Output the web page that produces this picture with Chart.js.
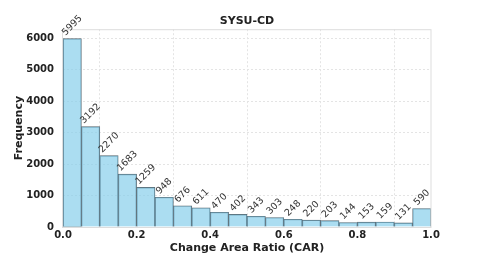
<!DOCTYPE html>
<html>
<head>
<meta charset="utf-8">
<script src="https://cdn.jsdelivr.net/npm/chart.js@4"></script>
<style>
  html, body { margin: 0; padding: 0; background: #fff; }
  #wrap { width: 478px; height: 255px; }
</style>
</head>
<body>
<div id="wrap"><canvas id="myChart" width="478" height="255"></canvas></div>
<script>
const binCenters = [0.025, 0.075, 0.125, 0.175, 0.225, 0.275, 0.325, 0.375, 0.425, 0.475,
                    0.525, 0.575, 0.625, 0.675, 0.725, 0.775, 0.825, 0.875, 0.925, 0.975];
const counts = [5995, 3192, 2270, 1683, 1259, 948, 676, 611, 470, 402,
                343, 303, 248, 220, 203, 144, 153, 159, 131, 590];
const xTicks = [0, 0.2, 0.4, 0.6, 0.8, 1.0];
const yTicks = [0, 1000, 2000, 3000, 4000, 5000, 6000];

const FONT = "'DejaVu Sans', sans-serif";

// frame around plot + count labels on bars
const extras = {
    id: "extras",
    afterDatasetsDraw(chart) {
        const ctx = chart.ctx;
        const a = chart.chartArea;
        ctx.save();
        ctx.strokeStyle = "#dddddd";
        ctx.lineWidth = 1;
        ctx.strokeRect(a.left - 0.5, a.top + 0.5, a.right - a.left + 0.5, a.bottom - a.top);

        const meta = chart.getDatasetMeta(0);
        ctx.font = "9.5px " + FONT;
        ctx.fillStyle = "#333333";
        ctx.textAlign = "center";
        ctx.textBaseline = "middle";
        meta.data.forEach((bar, i) => {
            const txt = String(counts[i]);
            const w = ctx.measureText(txt).width;
            const h = 7;
            const box = (w + h) / Math.SQRT2;
            ctx.save();
            ctx.translate(bar.x, bar.y - 2 - box / 2);
            ctx.rotate(-Math.PI / 4);
            ctx.fillText(txt, 0, 0);
            ctx.restore();
        });
        ctx.restore();
    }
};

const data = {
    datasets: [{
        label: "SYSU-CD",
        data: binCenters.map((c, i) => ({ x: c, y: counts[i] })),
        backgroundColor: "rgba(135, 206, 235, 0.7)",
        borderColor: "#56656e",
        borderWidth: 0.7,
        barPercentage: 1,
        categoryPercentage: 1,
    }]
};

const config = {
    type: "bar",
    data,
    options: {
        responsive: false,
        animation: false,
        layout: { padding: { left: 13, right: 47, top: 0, bottom: 0 } },
        plugins: {
            legend: { display: false },
            tooltip: { enabled: false },
            title: {
                display: true,
                fullSize: false,
                text: "SYSU-CD",
                color: "#222",
                font: { family: FONT, size: 11, weight: "bold" },
                padding: { top: 15, bottom: 1 },
            },
        },
        scales: {
            x: {
                type: "linear",
                offset: false,
                min: 0,
                max: 1,
                afterBuildTicks: (s) => { s.ticks = xTicks.map((v) => ({ value: v })); },
                afterFit: (s) => { s.height = 28; },
                ticks: {
                    color: "#222",
                    font: { family: FONT, size: 10, weight: "bold" },
                    padding: 2,
                    maxRotation: 0,
                    callback: (v) => v.toFixed(1),
                },
                grid: { color: "#e4e4e4", drawTicks: false },
                border: { display: false, dash: [2, 2] },
                title: {
                    display: true,
                    text: "Change Area Ratio (CAR)",
                    color: "#222",
                    font: { family: FONT, size: 11, weight: "bold" },
                    padding: { top: 0, bottom: 0 },
                },
            },
            y: {
                min: 0,
                max: 6295,
                afterBuildTicks: (s) => { s.ticks = yTicks.map((v) => ({ value: v })); },
                afterFit: (s) => { s.width = 50; },
                ticks: {
                    color: "#222",
                    font: { family: FONT, size: 10, weight: "bold" },
                    padding: 9,
                    callback: (v) => String(v),
                },
                grid: { color: "#e4e4e4", drawTicks: false },
                border: { display: false, dash: [2, 2] },
                title: {
                    display: true,
                    text: "Frequency",
                    color: "#222",
                    font: { family: FONT, size: 11, weight: "bold" },
                    padding: { top: 0, bottom: 0 },
                },
            },
        },
    },
    plugins: [extras],
};

let char = new Chart(document.getElementById("myChart"), config);
</script>
</body>
</html>
